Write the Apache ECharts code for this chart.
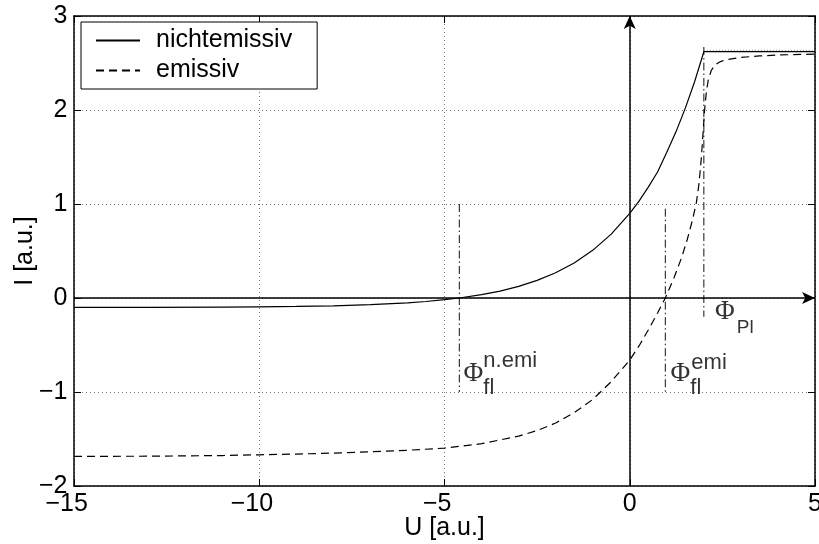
<!DOCTYPE html>
<html>
<head>
<meta charset="utf-8">
<title>Kennlinie emissive Sonde</title>
<script src="https://cdn.jsdelivr.net/npm/echarts@6/dist/echarts.min.js"></script>
<style>
  html, body { margin: 0; padding: 0; background: #fff; }
  #chart { width: 819px; height: 544px; }
</style>
</head>
<body>
<div id="chart"></div>
<script>
// Probe current I over probe voltage U, both in arbitrary units
const U_nichtemissiv = [-15, -13, -11, -10, -9, -8, -7, -6, -5.5, -5, -4.6, -4, -3.5, -3, -2.5, -2, -1.5, -1, -0.5, 0, 0.25, 0.5, 0.75, 1.0, 1.25, 1.5, 1.75, 2.0, 3.0, 4.0, 5.0];
const I_nichtemissiv = [-0.1, -0.099, -0.097, -0.094, -0.09, -0.083, -0.07, -0.052, -0.037, -0.018, 0, 0.035, 0.074, 0.123, 0.187, 0.268, 0.373, 0.507, 0.68, 0.9, 1.03, 1.18, 1.34, 1.55, 1.77, 2.02, 2.3, 2.62, 2.62, 2.62, 2.62];

const U_emissiv = [-15, -13, -11, -10, -9, -8, -7, -6, -5, -4, -3, -2.5, -2, -1.5, -1, -0.5, 0, 0.25, 0.5, 0.75, 0.96, 1.2, 1.4, 1.55, 1.7, 1.8, 1.87, 1.93, 1.98, 2.02, 2.07, 2.12, 2.2, 2.3, 2.45, 2.6, 3.0, 3.5, 4.0, 5.0];
const I_emissiv = [-1.685, -1.683, -1.676, -1.668, -1.66, -1.65, -1.636, -1.62, -1.597, -1.55, -1.47, -1.41, -1.33, -1.22, -1.08, -0.89, -0.66, -0.51, -0.34, -0.16, 0, 0.22, 0.43, 0.62, 0.84, 1.02, 1.22, 1.48, 1.76, 2.0, 2.2, 2.32, 2.42, 2.48, 2.515, 2.535, 2.56, 2.575, 2.585, 2.595];

// Characteristic potentials and the extent of their marker lines
const phiFlNemi = -4.6;
const phiFlEmi = 0.96;
const phiPl = 2.0;
const markerNemiI = [1.0, -1.0];
const markerEmiI = [0.95, -1.0];
const markerPlI = [2.67, -0.2];
const plateauI = 2.635;

// Axis ranges and tick step
const xRange = [-15, 5];
const yRange = [-2, 3];
const xStep = 5;
const yStep = 1;

const seriesNames = ['nichtemissiv', 'emissiv'];
const annotations = [
  { u: phiFlNemi, i: markerNemiI[1], sup: 'n.emi', sub: 'fl' },
  { u: phiFlEmi, i: markerEmiI[1], sup: 'emi', sub: 'fl' },
  { u: phiPl, i: markerPlI[1], sup: '', sub: 'Pl' }
];

const zip = (xs, ys) => xs.map((x, k) => [x, ys[k]]);
const minus = v => (v < 0 ? '\u2212' + Math.abs(v) : String(v));

const SANS = 'Liberation Sans, Arial, Helvetica, sans-serif';
const SERIF = 'Liberation Serif, Times New Roman, serif';

const chart = echarts.init(document.getElementById('chart'), null, { renderer: 'canvas' });

const gridLine = { show: true, lineStyle: { color: '#777', width: 1, type: [1, 3] } };
const frameLine = { show: true, onZero: false, lineStyle: { color: '#000', width: 1.5 } };
const innerTick = { show: true, inside: true, length: 7, lineStyle: { color: '#000', width: 1 } };

function markerSeries(u, range, dash) {
  return {
    type: 'line',
    data: [[u, range[0]], [u, range[1]]],
    symbol: 'none',
    silent: true,
    lineStyle: { color: '#111', width: 1, type: dash },
    z: 3
  };
}

// Label offsets (px) relative to the foot of each marker line
const labelOffsets = [
  { phi: [14, -18], sup: [24, -31], sub: [24, -4] },
  { phi: [15, -18.5], sup: [26, -29], sub: [25, -4] },
  { phi: [21, -5], sup: [33, -20], sub: [33, 11] }
];

const annotationData = [];
annotations.forEach((a, k) => {
  const off = labelOffsets[k];
  annotationData.push({
    value: [a.u, a.i],
    label: { show: true, position: 'inside', formatter: '\u03A6', fontFamily: SERIF, fontSize: 27, color: '#000', offset: off.phi }
  });
  if (a.sup) {
    annotationData.push({
      value: [a.u, a.i],
      label: { show: true, position: 'inside', align: 'left', formatter: a.sup, fontFamily: SANS, fontSize: 22, color: '#000', offset: off.sup }
    });
  }
  annotationData.push({
    value: [a.u, a.i],
    label: { show: true, position: 'inside', align: 'left', formatter: a.sub, fontFamily: SANS, fontSize: a.sup ? 22 : 19, color: '#000', offset: off.sub }
  });
});

const option = {
  animation: false,
  backgroundColor: '#fff',
  textStyle: { fontFamily: SANS },
  grid: { left: 74, right: 4, top: 16, bottom: 58, containLabel: false, outerBoundsMode: 'none' },
  legend: {
    data: seriesNames,
    orient: 'vertical',
    left: 81,
    top: 22,
    itemWidth: 44,
    itemHeight: 14,
    itemGap: 2,
    padding: [4.5, 25, 4.5, 14],
    borderColor: '#000',
    borderWidth: 1,
    backgroundColor: '#fff',
    itemStyle: { color: 'rgba(0,0,0,0)', borderColor: 'rgba(0,0,0,0)', borderWidth: 0 },
    textStyle: { fontFamily: SANS, fontSize: 25, color: '#000', lineHeight: 28, padding: [0, 0, 0, 11] },
    selectedMode: false,
    z: 10
  },
  xAxis: [
    {
      type: 'value', min: xRange[0], max: xRange[1], interval: xStep, position: 'bottom',
      name: 'U [a.u.]', nameLocation: 'middle', nameGap: 30, nameMoveOverlap: false,
      nameTextStyle: { fontFamily: SANS, fontSize: 25, color: '#000' },
      axisLine: frameLine, axisTick: innerTick, splitLine: gridLine,
      axisLabel: {
        margin: 6, color: '#000', fontFamily: SANS, fontSize: 25,
        formatter: v => (v < 0 ? '{n|' + minus(v) + '}' : String(v)),
        rich: { n: { fontFamily: SANS, fontSize: 25, color: '#000', padding: [0, 14.6, 0, 0] } }
      }
    },
    {
      type: 'value', min: xRange[0], max: xRange[1], interval: xStep, position: 'top',
      axisLine: frameLine, axisTick: innerTick, splitLine: { show: false }, axisLabel: { show: false }
    }
  ],
  yAxis: [
    {
      type: 'value', min: yRange[0], max: yRange[1], interval: yStep, position: 'left',
      name: 'I [a.u.]', nameLocation: 'middle', nameGap: 36, nameRotate: 90, nameMoveOverlap: false,
      nameTextStyle: { fontFamily: SANS, fontSize: 25, color: '#000' },
      axisLine: frameLine, axisTick: innerTick, splitLine: gridLine,
      axisLabel: { margin: 6.5, color: '#000', fontFamily: SANS, fontSize: 25, formatter: minus }
    },
    {
      type: 'value', min: yRange[0], max: yRange[1], interval: yStep, position: 'right',
      axisLine: frameLine, axisTick: innerTick, splitLine: { show: false }, axisLabel: { show: false }
    }
  ],
  series: [
    {
      name: seriesNames[0],
      type: 'line',
      data: zip(U_nichtemissiv, I_nichtemissiv),
      symbol: 'none',
      smooth: false,
      lineStyle: { color: '#000', width: 1.2, type: 'solid' },
      itemStyle: { color: '#000' },
      z: 4
    },
    {
      name: seriesNames[1],
      type: 'line',
      data: zip(U_emissiv, I_emissiv),
      symbol: 'none',
      smooth: false,
      lineStyle: { color: '#000', width: 1.2, type: [8, 5] },
      itemStyle: { color: '#000' },
      z: 4
    },
    markerSeries(phiFlNemi, markerNemiI, [8, 3, 1.5, 3]),
    markerSeries(phiFlEmi, markerEmiI, [8, 3, 1.5, 3]),
    markerSeries(phiPl, markerPlI, [8, 3, 1.5, 3]),
    {
      // faint dotted line along the electron saturation level
      type: 'line',
      data: [[phiPl, plateauI], [xRange[1], plateauI]],
      symbol: 'none',
      silent: true,
      lineStyle: { color: '#888', width: 1, type: [1, 2] },
      z: 3
    },
    {
      // coordinate cross with arrow heads
      type: 'line',
      data: [],
      silent: true,
      markLine: {
        silent: true,
        symbol: ['none', 'arrow'],
        symbolSize: [9, 13],
        label: { show: false },
        lineStyle: { color: '#000', width: 1.5, type: 'solid' },
        data: [
          [{ coord: [0, yRange[0]] }, { coord: [0, yRange[1]] }],
          [{ coord: [xRange[0], 0] }, { coord: [xRange[1], 0] }]
        ]
      },
      z: 5
    },
    {
      type: 'scatter',
      symbolSize: 0,
      silent: true,
      data: annotationData,
      z: 6
    }
  ]
};

chart.setOption(option);
</script>
</body>
</html>
